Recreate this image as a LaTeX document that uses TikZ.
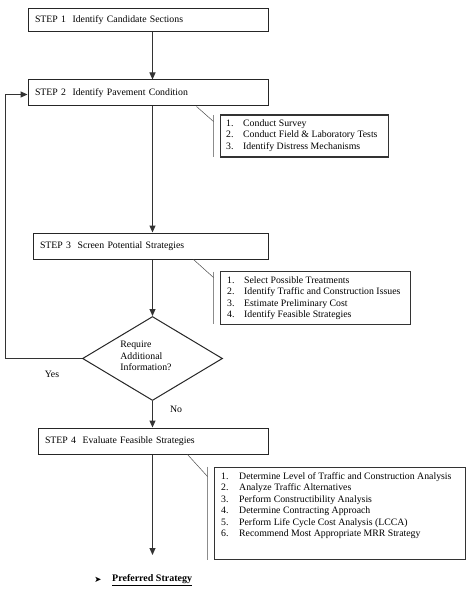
\documentclass[tikz,border=0pt]{standalone}
\usepackage{fontspec}
\setmainfont{Liberation Serif}
\newfontfamily\symfont{DejaVu Sans}
\usetikzlibrary{arrows.meta,shapes.geometric,calc}
\begin{document}
\begin{tikzpicture}[x=1pt,y=-1pt,
  every node/.style={font=\fontsize{9.8}{11.5}\selectfont},
  stepbox/.style={draw=black!85,line width=1pt,anchor=north west,inner xsep=7pt,inner ysep=0pt,align=left},
  callbox/.style={draw=black!80,line width=1.1pt,anchor=north west,inner sep=0pt},
  calltext/.style={anchor=west,inner sep=0pt},
  bracket/.style={draw=black!45,line width=1.6pt},
  diag/.style={draw=black!70,line width=0.5pt},
  arr/.style={draw=black!80,line width=1pt,-{Triangle[length=7pt,width=6pt]}},
  plain/.style={inner sep=0pt}]
\useasboundingbox (0,0) rectangle (469,596);
\fill[white] (0,0) rectangle (469,596);

% steps
\node[stepbox,text width=226pt,minimum height=23pt] (s1) at (27.5,8.5) {STEP 1\ \ Identify Candidate Sections};
\node[stepbox,text width=226pt,minimum height=26pt] (s2) at (27.5,79.5) {STEP 2\ \ Identify Pavement Condition};
\node[stepbox,text width=221pt,minimum height=26pt] (s3) at (32.5,232.5) {STEP 3\ \ Screen Potential Strategies};
\node[stepbox,text width=216pt,minimum height=26pt] (s4) at (37.5,427.5) {STEP 4\ \ Evaluate Feasible Strategies};

% decision
\node[diamond,draw=black!85,line width=1pt,minimum width=140pt,minimum height=84pt,inner sep=0pt] (d) at (152.5,358.5) {};
\node[plain,align=left] (dt) at (146,356) {Require\\Additional\\Information?};

% callout frames
\node[callbox,minimum width=168pt,minimum height=42pt] (c1) at (219.5,114.5) {};
\node[callbox,minimum width=190pt,minimum height=53pt] (c2) at (219.5,270.5) {};
\node[callbox,minimum width=251pt,minimum height=92pt] (c4) at (213.5,466.5) {};

% callout texts
\node[calltext] (t1) at (226,135.5) {\begin{tabular}{@{}p{17pt}@{}l@{}}1. & Conduct Survey\\2. & Conduct Field \& Laboratory Tests\\3. & Identify Distress Mechanisms\end{tabular}};
\node[calltext] (t2) at (227,298) {\begin{tabular}{@{}p{17pt}@{}l@{}}1. & Select Possible Treatments\\2. & Identify Traffic and Construction Issues\\3. & Estimate Preliminary Cost\\4. & Identify Feasible Strategies\end{tabular}};
\node[calltext] (t4) at (221,505.5) {\begin{tabular}{@{}p{18pt}@{}l@{}}1. & Determine Level of Traffic and Construction Analysis\\2. & Analyze Traffic Alternatives\\3. & Perform Constructibility Analysis\\4. & Determine Contracting Approach\\5. & Perform Life Cycle Cost Analysis (LCCA)\\6. & Recommend Most Appropriate MRR Strategy\end{tabular}};

% brackets and leader lines
\draw[bracket] ([xshift=-6pt,yshift=-1pt]c1.north west) -- ([xshift=-6pt,yshift=1pt]c1.south west);
\draw[bracket] ([xshift=-6pt,yshift=-1pt]c2.north west) -- ([xshift=-6pt,yshift=1pt]c2.south west);
\draw[bracket] ([xshift=-6pt]c4.north west) -- ([xshift=-6pt]c4.south west);
\draw[diag] ($(s2.south west)+(169,0)$) -- ($(c1.north west)+(-6,7)$);
\draw[diag] ($(s3.south west)+(161,0)$) -- ($(c2.north west)+(-6,7)$);
\draw[diag] ($(s4.south west)+(150,0)$) -- ($(c4.north west)+(-6,10)$);

% labels
\node[plain] (yes) at (52,374) {Yes};
\node[plain] (no) at (176,409) {No};

% end
\coordinate (endp) at (152.5,555);
\node[plain,font=\symfont\fontsize{8.5}{9}\selectfont] (bul) at (98,580) {➤};
\node[plain,anchor=west,font=\fontsize{10}{11.5}\selectfont\bfseries] (pref) at (112,580) {\underline{Preferred Strategy}};

% connectors
\draw[arr] (s1.south -| 152.5,0) -- (s2.north -| 152.5,0);
\draw[arr] (s2.south -| 152.5,0) -- (s3.north -| 152.5,0);
\draw[arr] (s3.south -| 152.5,0) -- (d.north);
\draw[arr] (d.south) -- (s4.north -| 152.5,0);
\draw[arr] (s4.south -| 152.5,0) -- (endp);
\coordinate (fb) at (5.5,94.5);
\draw[arr] (d.west) -| (fb) -- (fb -| s2.west);
\end{tikzpicture}
\end{document}
